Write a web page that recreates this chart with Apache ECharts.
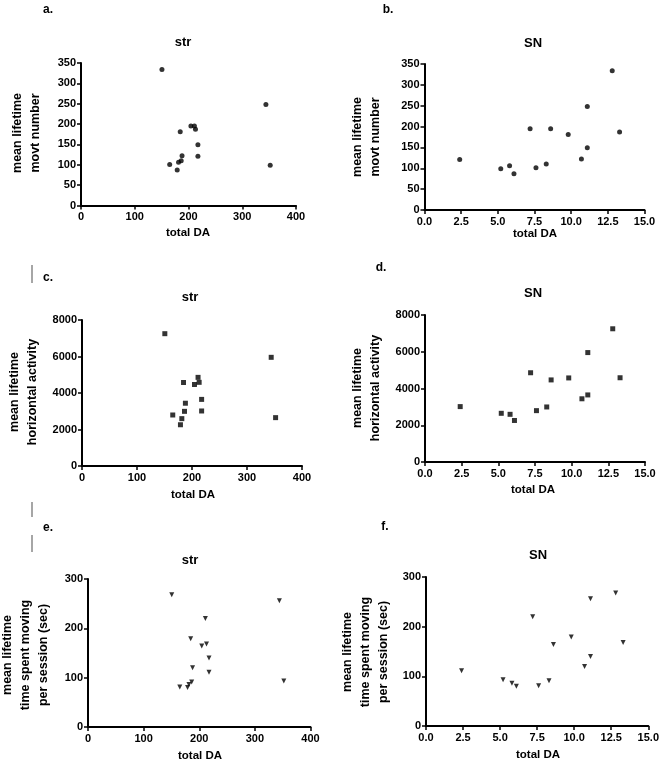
<!DOCTYPE html>
<html><head><meta charset="utf-8">
<script src="https://cdn.jsdelivr.net/npm/echarts@6/dist/echarts.min.js"></script>
<style>html,body{margin:0;padding:0;background:#fff}#c{width:662px;height:763px}</style>
</head><body><div id="c"></div>
<script>
// Data: one entry per animal (14 animals)
const strDA = [150.6, 344, 352, 165, 179, 181.5, 184.6, 186.4, 188, 204.5, 211, 213, 217.5, 217.5];
const snDA = [12.8, 11.1, 5.2, 7.6, 6.1, 5.8, 9.8, 8.3, 10.7, 8.6, 7.2, 13.3, 11.1, 2.4];
const movtNumber = [334, 248, 99, 101, 87, 106, 181, 110, 122, 195, 195, 187, 149, 121];
const horizActivity = [7250, 5955, 2650, 2795, 2260, 2595, 4575, 2995, 3440, 4467, 4857, 4585, 3650, 3015];
const timeMoving = [268, 256, 93, 81, 80, 86, 179, 91, 120, 164, 220, 168, 140, 111];

const panelLetters = ['a.', 'b.', 'c.', 'd.', 'e.', 'f.'];
const panelTitles = ['str', 'SN', 'str', 'SN', 'str', 'SN'];
const xAxisTitle = 'total DA';
const yAxisTitles = ['mean lifetime\nmovt number', 'mean lifetime\nhorizontal activity', 'mean lifetime\ntime spent moving\nper session (sec)'];

const FONT = '"Liberation Sans", Arial, sans-serif';

const grids = [
  {left: 81, top: 63, width: 215, height: 142.5},
  {left: 424.5, top: 64, width: 220, height: 146},
  {left: 82, top: 320, width: 220, height: 146},
  {left: 425, top: 315, width: 220, height: 147},
  {left: 88, top: 579, width: 222.5, height: 148},
  {left: 426, top: 577, width: 222.5, height: 149}
];

const xs = [strDA, snDA, strDA, snDA, strDA, snDA];
const ys = [movtNumber, movtNumber, horizActivity, horizActivity, timeMoving, timeMoving];
const yRanges = [[0, 350, 50], [0, 350, 50], [0, 8000, 2000], [0, 8000, 2000], [0, 300, 100], [0, 300, 100]];
const symbols = ['circle', 'circle', 'rect', 'rect', 'triangle', 'triangle'];

function axisBase() {
  return {
    axisLine: {show: true, onZero: false, lineStyle: {color: '#000', width: 2}},
    axisTick: {show: true, length: 4, lineStyle: {color: '#000', width: 1.5}},
    splitLine: {show: false},
    axisLabel: {color: '#000', fontFamily: FONT, fontWeight: 'bold', fontSize: 11}
  };
}

const xAxes = [], yAxes = [], series = [];
grids.forEach((g, i) => {
  const isSN = i % 2 === 1;
  const xa = axisBase();
  Object.assign(xa, {type: 'value', gridIndex: i, min: 0, max: isSN ? 15 : 400, interval: isSN ? 2.5 : 100});
  Object.assign(xa.axisLabel, {margin: 6, formatter: isSN ? (v => v.toFixed(1)) : (v => String(v))});
  xAxes.push(xa);
  const ya = axisBase();
  Object.assign(ya, {type: 'value', gridIndex: i, min: yRanges[i][0], max: yRanges[i][1], interval: yRanges[i][2]});
  Object.assign(ya.axisLabel, {margin: 5, formatter: v => String(v)});
  yAxes.push(ya);
  series.push({
    type: 'scatter', xAxisIndex: i, yAxisIndex: i,
    symbol: symbols[i], symbolSize: 5, symbolRotate: symbols[i] === 'triangle' ? 180 : 0,
    itemStyle: {color: '#000'},
    data: xs[i].map((x, k) => [x, ys[i][k]]),
    silent: true
  });
});

function txt(x, y, text, size, extra) {
  return {
    type: 'text', x: x, y: y,
    style: Object.assign({text: text, x: 0, y: 0, fill: '#000', font: 'bold ' + size + 'px ' + FONT, align: 'center', verticalAlign: 'middle'}, extra || {})
  };
}

const letterPos = [[48, 10], [388, 10], [48, 278], [381, 268], [48, 528], [385, 527]];
const titlePos = [[183, 42], [533, 43], [190, 297], [533, 293], [190, 560], [538, 555]];
const xTitlePos = [[188, 233], [535, 234], [193, 495], [533, 490], [200, 756], [538, 755]];
const yTitlePos = [[27, 133], [367, 137], [24, 392], [367, 388], [26, 655], [366, 652]];

const graphics = [];
for (let i = 0; i < 6; i++) {
  graphics.push(txt(letterPos[i][0], letterPos[i][1], panelLetters[i], 12));
  graphics.push(txt(titlePos[i][0], titlePos[i][1], panelTitles[i], 13));
  graphics.push(txt(xTitlePos[i][0], xTitlePos[i][1], xAxisTitle, 11.5));
  const yt = txt(yTitlePos[i][0], yTitlePos[i][1], yAxisTitles[Math.floor(i / 2)], 12.5, {lineHeight: 18});
  yt.rotation = Math.PI / 2;
  graphics.push(yt);
}
// grey margin marks
[[265, 283], [502, 517], [535, 552]].forEach(s => {
  graphics.push({type: 'line', shape: {x1: 32, y1: s[0], x2: 32, y2: s[1]}, style: {stroke: '#888', lineWidth: 1.5}});
});

const chart = echarts.init(document.getElementById('c'), null, {renderer: 'canvas'});
chart.setOption({
  animation: false,
  backgroundColor: '#fff',
  grid: grids.map(g => Object.assign({containLabel: false}, g)),
  xAxis: xAxes,
  yAxis: yAxes,
  series: series,
  graphic: graphics
});
</script>
</body></html>
